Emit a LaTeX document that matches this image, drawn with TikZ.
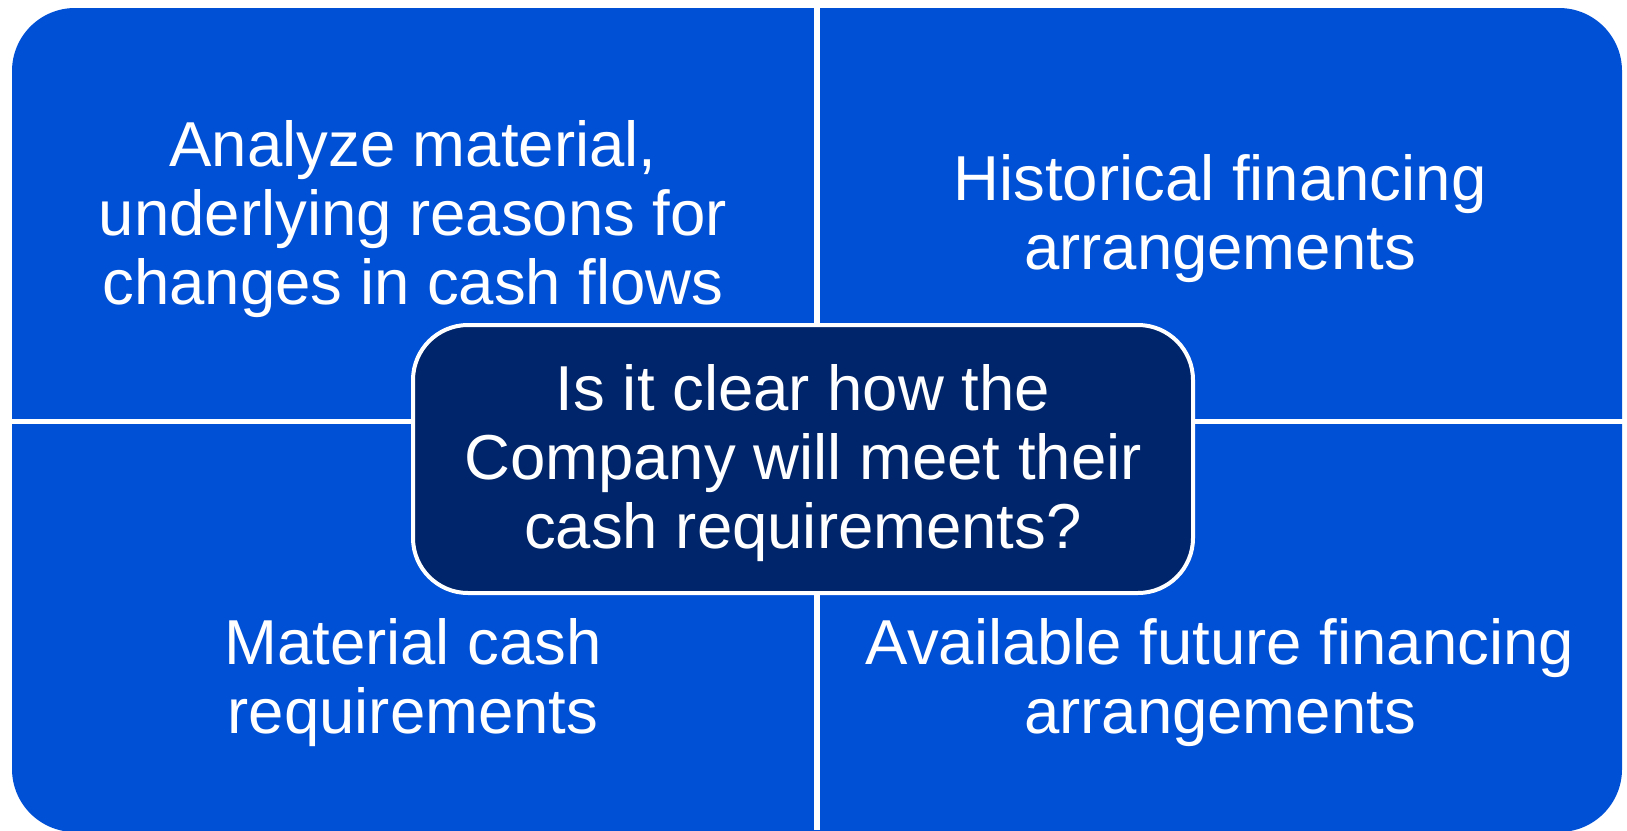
\documentclass[tikz,border=0pt]{standalone}
\usepackage{fontspec}
\setmainfont{Liberation Sans}
\definecolor{quadblue}{HTML}{0050D6}
\definecolor{navybox}{HTML}{00256A}
\begin{document}
\begin{tikzpicture}[x=1pt,y=-1pt,
  quadtext/.style={text=white,align=center,inner sep=0pt,font=\fontsize{63.5}{69}\selectfont},
  gapline/.style={fill=white}]
\useasboundingbox[fill=white] (0,0) rectangle (1627,830);
% outer blue field with rounded outer corners
\fill[quadblue,rounded corners=63pt] (12,8) rectangle (1622,832);
% white gaps between the four quadrants
\fill[gapline] (814,0) rectangle (820,830);
\fill[gapline] (0,419) rectangle (1627,424);
% quadrant texts
\node[quadtext] (tl) at (413,219) {Analyze material,\\underlying reasons for\\changes in cash flows};
\node[quadtext] (tr) at (1220,218.2) {Historical financing\\arrangements};
\node[quadtext] (bl) at (413,682.5) {Material cash\\requirements};
\node[quadtext] (br) at (1220,682.7) {Available future financing\\arrangements};
% central question box
\node[draw=white,line width=4pt,fill=navybox,rounded corners=55pt,
      minimum width=780pt,minimum height=268pt,inner sep=0pt] (cbox) at (803,459) {};
\node[quadtext] (ctext) at (803,463) {Is it clear how the\\Company will meet their\\cash requirements?};
\end{tikzpicture}
\end{document}
